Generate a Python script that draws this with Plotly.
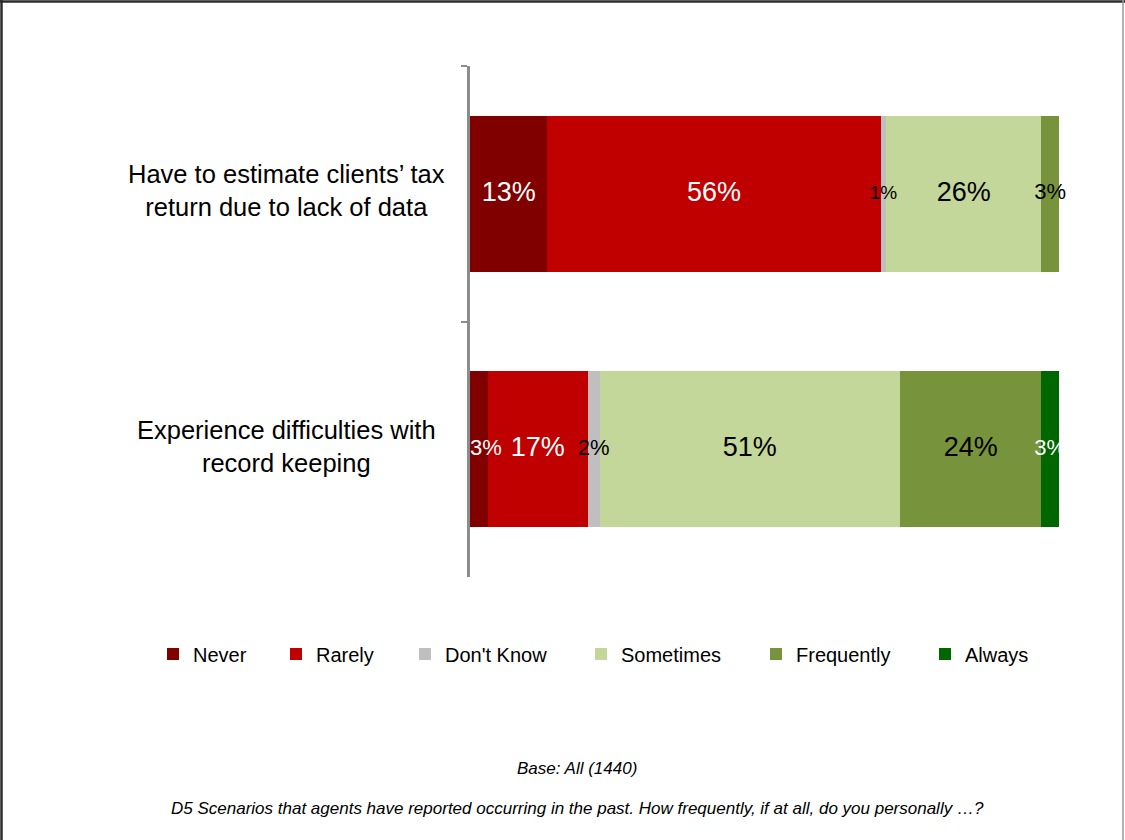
import plotly.graph_objects as go

# ---- data ----
categories = [
    "Have to estimate clients\u2019 tax<br>return due to lack of data",
    "Experience difficulties with<br>record keeping",
]
series_names = ["Never", "Rarely", "Don't Know", "Sometimes", "Frequently", "Always"]
never = [13, 3]
rarely = [56, 17]
dont_know = [1, 2]
sometimes = [26, 51]
frequently = [3, 24]
always = [0, 3]

base_note = "Base: All (1440)"
question_note = ("D5 Scenarios that agents have reported occurring in the past. "
                 "How frequently, if at all, do you personally \u2026?")

# ---- styling ----
colors = ["#800000", "#C00000", "#BFBFBF", "#C4D79B", "#77933C", "#006600"]
label_colors = ["white", "white", "black", "black", "black", "white"]
FONT = "Liberation Sans, Arial, Helvetica, sans-serif"

W, H = 1125, 840
ML, MR, MT, MB = 470, 66, 66, 263
PW, PH = W - ML - MR, H - MT - MB


def px_x(px):
    return (px - ML) / PW


def px_y(py):
    return (H - MB - py) / PH


def label_size(v):
    if v <= 1:
        return 19
    if v <= 3:
        return 22
    return 27


series_values = [never, rarely, dont_know, sometimes, frequently, always]
legend_left_px = [153, 276, 405, 581, 756, 925]

# row totals, so each bar spans the full 0-100% width
row_totals = [sum(s[r] for s in series_values) for r in range(len(categories))]

fig = go.Figure()
for i, (name, vals) in enumerate(zip(series_names, series_values)):
    fig.add_trace(go.Bar(
        y=categories,
        x=vals,
        name=name,
        orientation="h",
        marker=dict(color=colors[i], line=dict(width=0)),
        width=0.61,
        hoverinfo="name+x",
        legend="legend" if i == 0 else f"legend{i + 1}",
    ))

# value labels, drawn above all segments so narrow ones can overflow;
# a label that would spill past the axis starts at the bar's left end
running = [0.0] * len(categories)
for i, vals in enumerate(series_values):
    xs, texts, sizes, positions = [], [], [], []
    for r, v in enumerate(vals):
        share = 100.0 * v / row_totals[r]
        mid = running[r] + share / 2
        text = f"{v}%" if v > 0 else ""
        size = label_size(v)
        half_width = len(text) * 0.56 * size / 2 / PW * 100
        if mid - half_width < 0:
            xs.append(running[r])
            positions.append("middle right")
        else:
            xs.append(mid)
            positions.append("middle center")
        running[r] += share
        texts.append(text)
        sizes.append(size)
    fig.add_trace(go.Scatter(
        x=xs, y=categories, mode="text", text=texts,
        textposition=positions,
        textfont=dict(family=FONT, color=label_colors[i], size=sizes),
        showlegend=False, hoverinfo="skip", cliponaxis=False,
    ))

layout_legends = {}
for i in range(len(series_names)):
    key = "legend" if i == 0 else f"legend{i + 1}"
    layout_legends[key] = dict(
        x=px_x(legend_left_px[i]), xanchor="left",
        y=px_y(654), yanchor="middle",
        orientation="h",
        font=dict(family=FONT, size=20, color="black"),
        bgcolor="rgba(0,0,0,0)",
        borderwidth=0,
    )

annotations = []
for cat in categories:
    annotations.append(dict(
        x=px_x(286), xref="paper", y=cat, yref="y", yshift=3,
        text=cat, showarrow=False, xanchor="center", yanchor="middle",
        align="center", font=dict(family=FONT, size=25.5, color="black"),
    ))
annotations.append(dict(
    x=px_x(577), xref="paper", y=px_y(768), yref="paper",
    text=f"<i>{base_note}</i>", showarrow=False, xanchor="center", yanchor="middle",
    font=dict(family=FONT, size=17, color="black"),
))
annotations.append(dict(
    x=px_x(577), xref="paper", y=px_y(808), yref="paper",
    text=f"<i>{question_note}</i>", showarrow=False, xanchor="center", yanchor="middle",
    font=dict(family=FONT, size=17, color="black"),
))

# frame around the chart area
shapes = [
    dict(type="line", xref="paper", yref="paper",
         x0=px_x(0), x1=px_x(W), y0=px_y(1.5), y1=px_y(1.5),
         line=dict(color="#2b2b2b", width=2.5)),
    dict(type="line", xref="paper", yref="paper",
         x0=px_x(1.5), x1=px_x(1.5), y0=px_y(0), y1=px_y(H),
         line=dict(color="#2b2b2b", width=2.5)),
    dict(type="line", xref="paper", yref="paper",
         x0=px_x(1123), x1=px_x(1123), y0=px_y(0), y1=px_y(H),
         line=dict(color="#999999", width=1.5)),
]

fig.update_layout(
    width=W, height=H,
    margin=dict(l=ML, r=MR, t=MT, b=MB, pad=0),
    barmode="stack",
    barnorm="percent",
    paper_bgcolor="white",
    plot_bgcolor="white",
    font=dict(family=FONT, color="black"),
    showlegend=True,
    annotations=annotations,
    shapes=shapes,
    xaxis=dict(range=[0, 100], visible=False, fixedrange=True),
    yaxis=dict(
        type="category",
        autorange="reversed",
        showticklabels=False,
        showline=True, linecolor="#8c8c8c", linewidth=3,
        ticks="outside", tickson="boundaries", ticklen=6,
        tickcolor="#8c8c8c", tickwidth=2,
        showgrid=False, zeroline=False,
    ),
    **layout_legends,
)

fig.write_html("out.html")
